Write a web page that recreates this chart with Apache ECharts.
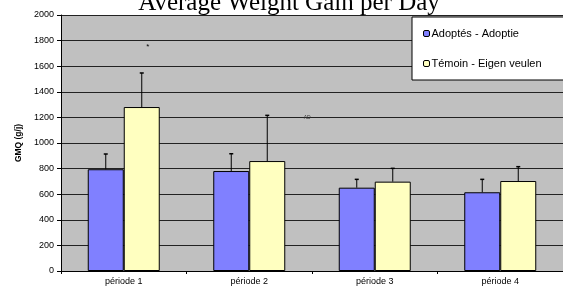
<!DOCTYPE html>
<html>
<head>
<meta charset="utf-8">
<script src="https://cdn.jsdelivr.net/npm/echarts@6/dist/echarts.min.js"></script>
<style>
  html, body { margin: 0; padding: 0; background: #fff; }
  #main { width: 563px; height: 289px; }
</style>
</head>
<body>
<div id="main"></div>
<script>
var categories = ['période 1', 'période 2', 'période 3', 'période 4'];
var adoptes = [795, 781, 651, 615];
var adoptesErr = [119, 135, 65, 101];
var temoin = [1281, 859, 698, 703];
var temoinErr = [266, 357, 104, 112];
var yTicks = [0, 200, 400, 600, 800, 1000, 1200, 1400, 1600, 1800, 2000];

var BAR_W = 36;

function errorSeries(name, values, errs, offset) {
    var data = [];
    for (var i = 0; i < values.length; i++) {
        data.push([i, values[i], values[i] + errs[i]]);
    }
    return {
        name: name + ' err',
        type: 'custom',
        z: 5,
        data: data,
        renderItem: function(params, api) {
            var base = api.coord([api.value(0), api.value(1)]);
            var top = api.coord([api.value(0), api.value(2)]);
            var x = base[0] + offset;
            return {
                type: 'group',
                children: [
                    { type: 'line', shape: { x1: x, y1: base[1], x2: x, y2: top[1] },
                      style: { stroke: '#000', lineWidth: 1 } },
                    { type: 'line', shape: { x1: x - 2, y1: top[1], x2: x + 2, y2: top[1] },
                      style: { stroke: '#000', lineWidth: 1.5 } }
                ]
            };
        }
    };
}

var chart = echarts.init(document.getElementById('main'));
chart.setOption({
    animation: false,
    backgroundColor: '#fff',
    title: {
        text: 'Average Weight Gain per Day',
        left: 284,
        textAlign: 'center',
        top: -14,
        textStyle: { fontFamily: 'Liberation Serif', fontSize: 25, fontWeight: 'normal', color: '#000' }
    },
    legend: {
        data: ['Adoptés - Adoptie', 'Témoin - Eigen veulen'],
        orient: 'vertical',
        left: 412,
        top: 17,
        width: 160,
        padding: [11, 30, 11, 11],
        itemGap: 19,
        itemWidth: 6,
        itemHeight: 6,
        backgroundColor: '#fff',
        borderColor: '#000',
        borderWidth: 1,
        borderRadius: 0,
        textStyle: { fontFamily: 'Liberation Sans', fontSize: 11, color: '#000', padding: [0, 0, 0, -3] },
        itemStyle: { borderColor: '#000', borderWidth: 1 }
    },
    grid: { left: 61, right: 0, top: 15, bottom: 18, show: true, backgroundColor: '#c0c0c0', borderWidth: 0 },
    xAxis: {
        type: 'category',
        data: categories,
        axisLine: { lineStyle: { color: '#000', width: 1 } },
        axisTick: { show: true, length: 3, lineStyle: { color: '#000' } },
        axisLabel: { fontFamily: 'Liberation Sans', fontSize: 9, color: '#000', margin: 6 }
    },
    yAxis: {
        type: 'value',
        min: yTicks[0],
        max: yTicks[yTicks.length - 1],
        interval: 200,
        name: 'GMQ (g/j)',
        nameLocation: 'middle',
        nameGap: 35,
        nameTextStyle: { fontFamily: 'Liberation Sans', fontSize: 8.5, fontWeight: 'bold', color: '#000' },
        axisLine: { show: true, lineStyle: { color: '#000', width: 1 } },
        axisTick: { show: true, length: 4, lineStyle: { color: '#000' } },
        axisLabel: { fontFamily: 'Liberation Sans', fontSize: 9, color: '#000', margin: 7,
                     formatter: function(v) { return String(v); } },
        splitLine: { lineStyle: { color: '#222', width: 1 } }
    },
    series: [
        {
            name: 'Adoptés - Adoptie',
            type: 'bar',
            data: adoptes,
            barWidth: BAR_W,
            barGap: '0%',
            itemStyle: { color: '#8080ff', borderColor: '#000', borderWidth: 1 }
        },
        {
            name: 'Témoin - Eigen veulen',
            type: 'bar',
            data: temoin,
            barWidth: BAR_W,
            barGap: '0%',
            itemStyle: { color: '#ffffc0', borderColor: '#000', borderWidth: 1 },
            markPoint: {
                symbol: 'circle',
                symbolSize: 1,
                itemStyle: { color: 'rgba(0,0,0,0)' },
                label: { show: true, position: 'inside', color: '#000', fontSize: 8, fontFamily: 'Liberation Sans' },
                data: [
                    { coord: [0, 1750], value: '*', label: { formatter: '*', offset: [6, 0] } },
                    { coord: [1, 1200], value: 'AD', label: { formatter: 'AD', fontSize: 5, color: '#333', offset: [40, 0] } }
                ]
            }
        },
        errorSeries('Adoptés - Adoptie', adoptes, adoptesErr, -BAR_W / 2),
        errorSeries('Témoin - Eigen veulen', temoin, temoinErr, BAR_W / 2)
    ]
});
</script>
</body>
</html>
